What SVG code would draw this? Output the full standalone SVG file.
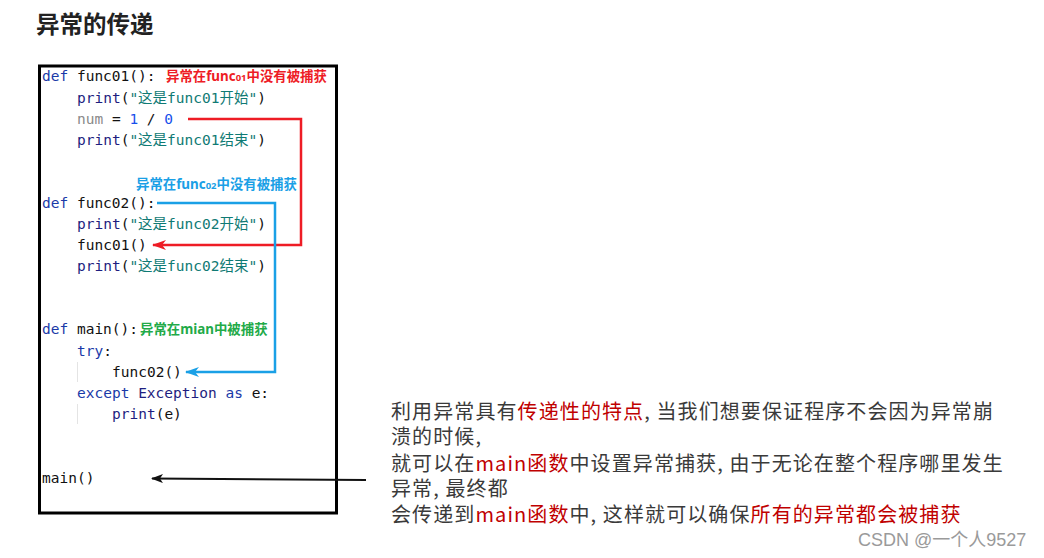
<svg xmlns="http://www.w3.org/2000/svg" width="1044" height="558" viewBox="0 0 1044 558">
<defs>
<style>
.code{font-family:"DejaVu Sans Mono","Noto Sans CJK SC",monospace;font-size:14.5px;fill:#111}
.kw{fill:#1a3aa8}
.fn{fill:#1e1e80}
.str{fill:#0f7a74}
.var{fill:#8a8a8a}
.num{fill:#1750eb}
.ann{font-family:"Noto Sans","Noto Sans CJK SC",sans-serif;font-size:13.4px;font-weight:bold}
.note{font-family:"Noto Sans CJK SC",sans-serif;font-size:20px;letter-spacing:1.1px;fill:#3a3a3a}
.hl{fill:#c00000}
</style>
<marker id="ahR" markerWidth="14" markerHeight="10" refX="13" refY="5" orient="auto" markerUnits="userSpaceOnUse"><path d="M14,5 L0,0 L4,5 L0,10 Z" fill="#ee1c25"/></marker>
<marker id="ahB" markerWidth="14" markerHeight="10" refX="13" refY="5" orient="auto" markerUnits="userSpaceOnUse"><path d="M14,5 L0,0 L4,5 L0,10 Z" fill="#1aa0e6"/></marker>
<marker id="ahK" markerWidth="12" markerHeight="9" refX="11" refY="4.5" orient="auto" markerUnits="userSpaceOnUse"><path d="M12,4.5 L0,0 L3,4.5 L0,9 Z" fill="#111"/></marker>
</defs>
<rect width="1044" height="558" fill="#fff"/>
<text x="36" y="33" font-family="Noto Sans CJK SC,sans-serif" font-size="23.5" font-weight="bold" fill="#222">异常的传递</text>
<g id="codebox">
<rect x="39.5" y="66" width="297" height="447" fill="#fff" stroke="#000" stroke-width="3"/>
<line x1="77.5" y1="362" x2="77.5" y2="382" stroke="#e4e4e4"/>
<line x1="77.5" y1="404" x2="77.5" y2="424" stroke="#e4e4e4"/>
<text class="code" x="42" y="81"><tspan class="kw">def</tspan> func01():</text>
<text class="code" x="77" y="103"><tspan class="fn">print</tspan>(<tspan class="str">"这是func01开始"</tspan>)</text>
<text class="code" x="77" y="124"><tspan class="var">num</tspan> = <tspan class="num">1</tspan> / <tspan class="num">0</tspan></text>
<text class="code" x="77" y="145"><tspan class="fn">print</tspan>(<tspan class="str">"这是func01结束"</tspan>)</text>
<text class="code" x="42" y="208"><tspan class="kw">def</tspan> func02():</text>
<text class="code" x="77" y="229"><tspan class="fn">print</tspan>(<tspan class="str">"这是func02开始"</tspan>)</text>
<text class="code" x="77" y="250">func01()</text>
<text class="code" x="77" y="271"><tspan class="fn">print</tspan>(<tspan class="str">"这是func02结束"</tspan>)</text>
<text class="code" x="42" y="334"><tspan class="kw">def</tspan> main():</text>
<text class="code" x="77" y="356"><tspan class="kw">try</tspan>:</text>
<text class="code" x="112" y="377">func02()</text>
<text class="code" x="77" y="398"><tspan class="kw">except</tspan> <tspan class="fn">Exception</tspan> <tspan class="kw">as</tspan> e:</text>
<text class="code" x="112" y="419"><tspan class="fn">print</tspan>(e)</text>
<text class="code" x="42" y="483">main()</text>
</g>
<g id="labels">
<text class="ann" x="166" y="81" fill="#ee1c25">异常在func<tspan font-size="9.5">01</tspan>中没有被捕获</text>
<text class="ann" x="136" y="189" fill="#1aa0e6">异常在func<tspan font-size="9.5">02</tspan>中没有被捕获</text>
<text class="ann" x="140" y="334" fill="#22aa48">异常在mian中被捕获</text>
</g>
<g id="connectors" fill="none">
<polyline points="188,119 301,119 301,245 153,245" stroke="#ee1c25" stroke-width="2.5" marker-end="url(#ahR)"/>
<polyline points="157,203 275,203 275,372 186,372" stroke="#1aa0e6" stroke-width="2.5" marker-end="url(#ahB)"/>
<line x1="366" y1="480" x2="152" y2="478.5" stroke="#111" stroke-width="2" marker-end="url(#ahK)"/>
</g>
<g id="note">
<text class="note"><tspan x="391" y="419">利用异常具有<tspan class="hl">传递性的特点</tspan>, 当我们想要保证程序不会因为异常崩</tspan><tspan x="391" y="444">溃的时候,</tspan><tspan x="391" y="471">就可以在<tspan class="hl">main函数</tspan>中设置异常捕获, 由于无论在整个程序哪里发生</tspan><tspan x="391" y="496">异常, 最终都</tspan><tspan x="391" y="522">会传递到<tspan class="hl">main函数</tspan>中, 这样就可以确保<tspan class="hl">所有的异常都会被捕获</tspan></tspan></text>
</g>
<text x="858" y="546" font-family="Liberation Sans,Noto Sans CJK SC,sans-serif" font-size="18" fill="#9a9a9a">CSDN @一个人9527</text>
</svg>
